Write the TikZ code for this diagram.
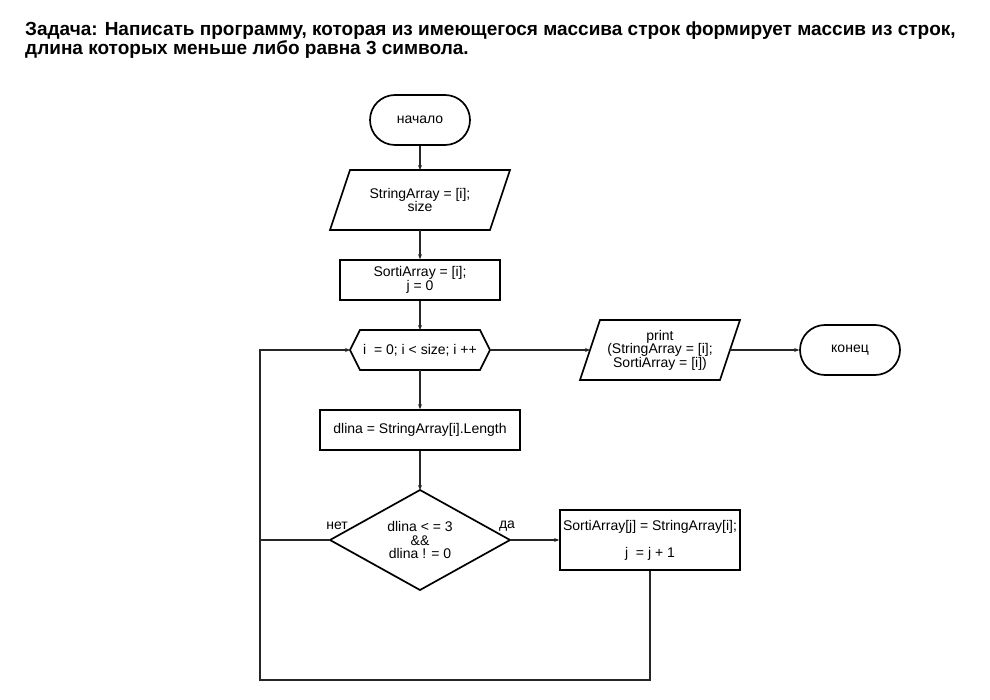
\documentclass[tikz,border=0pt]{standalone}
\usepackage{fontspec}
\setmainfont{Liberation Sans}
\usetikzlibrary{arrows.meta}
\begin{document}
\begin{tikzpicture}[x=1pt,y=-1pt,
  shp/.style={draw=black,line width=1.7pt},
  term/.style={shp,rectangle,rounded corners=25pt,minimum width=100pt,minimum height=50pt,inner sep=0pt},
  box/.style={shp,rectangle,inner sep=0pt},
  txt/.style={inner sep=0pt,align=center,font=\fontsize{14}{13.5}\selectfont},
  con/.style={draw=black!85,line width=1.5pt},
  arr/.style={con,-{Stealth[length=5pt,width=4pt]}},
  every node/.style={font=\fontsize{14}{13.5}\selectfont}]
\useasboundingbox (0,0) rectangle (990,700);

% title
\node[anchor=north west,align=left,inner sep=0pt,font=\fontsize{19}{16.5}\selectfont\bfseries] (title) at (25,22)
 {Задача: Написать программу, которая из имеющегося массива строк формирует массив из строк,\\
  длина которых меньше либо равна 3 символа.};

% start
\node[term] (start) at (420,120) {начало};

% input parallelogram
\draw[shp] (350,170) -- (510,170) -- (490,230) -- (330,230) -- cycle;
\node[txt,minimum width=160pt,minimum height=60pt] (input) at (420,200) {StringArray = [i];\\ size};

% init box
\node[box,txt,draw,line width=1.7pt,minimum width=160pt,minimum height=40pt] (init) at (420,280) {SortiArray = [i];\\ j = 0};

% loop hexagon
\draw[shp] (350,350) -- (360,330) -- (480,330) -- (490,350) -- (480,370) -- (360,370) -- cycle;
\node[txt,minimum width=140pt,minimum height=40pt] (loop) at (420,350) {i\ \ = 0; i < size; i ++};

% dlina box
\node[box,txt,draw,line width=1.7pt,minimum width=200pt,minimum height=40pt] (len) at (420,430) {dlina = StringArray[i].Length};

% decision diamond
\draw[shp] (330,540) -- (420,490) -- (510,540) -- (420,590) -- cycle;
\node[txt,minimum width=180pt,minimum height=100pt] (cond) at (420,540) {dlina < = 3\\ \&\&\\ dlina ! = 0};

% assign box
\node[box,txt,draw,line width=1.7pt,minimum width=180pt,minimum height=60pt] (assign) at (650,540) {SortiArray[j] = StringArray[i];\\[13.5pt] j\ \ = j + 1};

% print parallelogram
\draw[shp] (600,320) -- (740,320) -- (720,380) -- (580,380) -- cycle;
\node[txt,minimum width=160pt,minimum height=60pt] (print) at (660,350) {print\\ (StringArray = [i];\\ SortiArray = [i])};

% end
\node[term] (end) at (850,350) {конец};

% connector helper coordinates
\coordinate (printL) at (590,350);
\coordinate (printR) at (730,350);
\coordinate (loopL) at (350,350);
\coordinate (loopR) at (490,350);
\coordinate (condL) at (330,540);
\coordinate (condR) at (510,540);
\coordinate (condT) at (420,490);
\coordinate (c1) at (650,680);
\coordinate (c2) at (260,680);
\coordinate (c3) at (260,350);
\coordinate (c4) at (260,540);

% connectors
\draw[arr] (start.south) -- (420,170);
\draw[arr] (420,230) -- (init.north);
\draw[arr] (init.south) -- (420,330);
\draw[arr] (420,370) -- (len.north);
\draw[arr] (len.south) -- (condT);
\draw[arr] (condR) -- (assign.west);
\draw[con] (condL) -- (c4);
\draw[arr] (assign.south) -- (c1) -- (c2) -- (c3) -- (loopL);
\draw[arr] (loopR) -- (printL);
\draw[arr] (printR) -- (end.west);

% labels
\node[txt] (no) at (337,526) {нет};
\node[txt] (yes) at (507,526) {да};
\end{tikzpicture}
\end{document}
